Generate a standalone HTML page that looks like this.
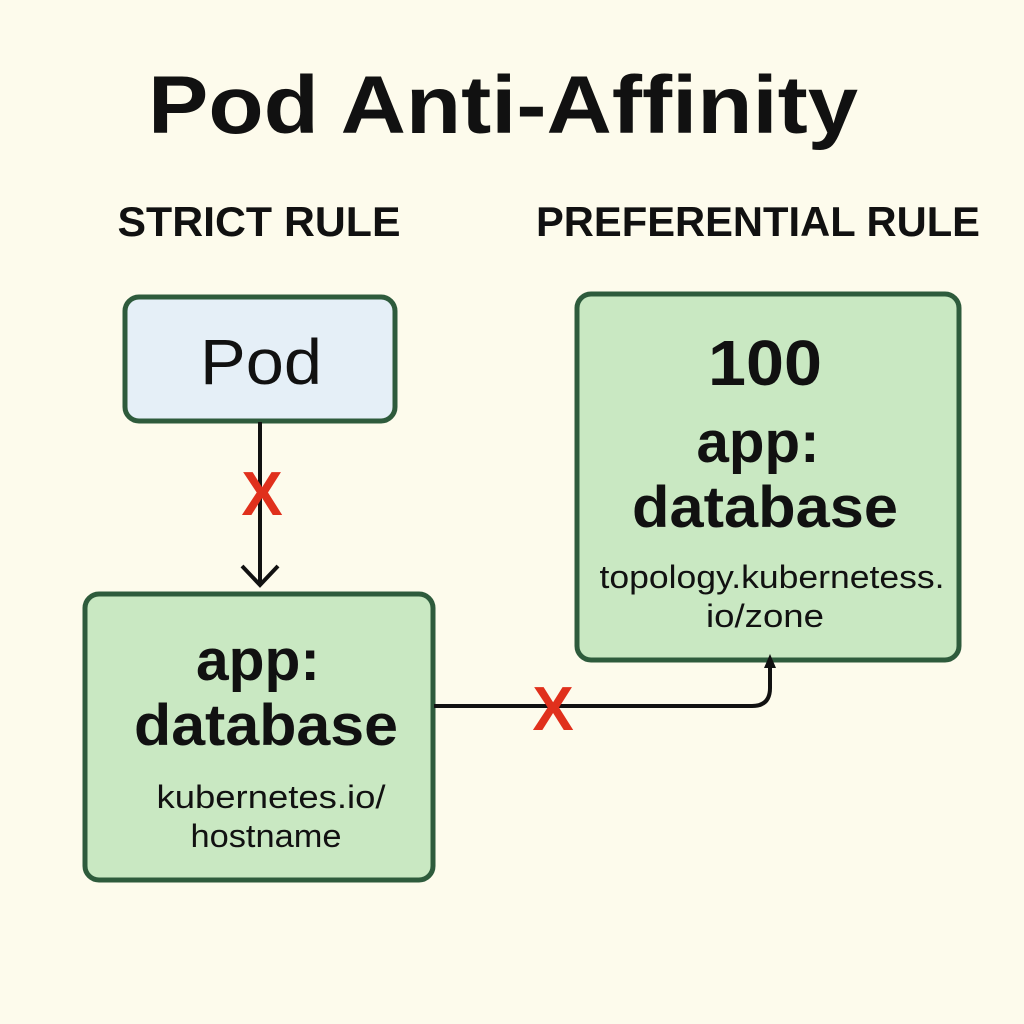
<!DOCTYPE html>
<html><head><meta charset="utf-8"><style>
html,body{margin:0;padding:0;background:#fdfbec;}
svg{display:block}
text{font-family:"Liberation Sans","DejaVu Sans",sans-serif;fill:#111;text-anchor:middle}
</style></head><body>
<svg width="1024" height="1024" viewBox="0 0 1024 1024">
<rect width="1024" height="1024" fill="#fdfbec"/>
<text x="503" y="133" font-size="82" font-weight="bold" textLength="710" lengthAdjust="spacingAndGlyphs">Pod Anti-Affinity</text>
<text x="259" y="236" font-size="42" font-weight="bold" textLength="283" lengthAdjust="spacingAndGlyphs">STRICT RULE</text>
<text x="758" y="236" font-size="42" font-weight="bold" textLength="444" lengthAdjust="spacingAndGlyphs">PREFERENTIAL RULE</text>

<rect x="125" y="297" width="270" height="124" rx="14" fill="#e5eff7" stroke="#2e5b3c" stroke-width="5"/>
<text x="261" y="384" font-size="64" textLength="122" lengthAdjust="spacingAndGlyphs">Pod</text>

<line x1="260" y1="422" x2="260" y2="584" stroke="#111" stroke-width="4"/>
<polyline points="242,566 260,585 278,566" fill="none" stroke="#111" stroke-width="4"/>
<text x="262" y="515" font-size="62" font-weight="bold" style="fill:#e0301c">X</text>

<rect x="85" y="594" width="348" height="286" rx="14" fill="#c9e8c2" stroke="#2e5b3c" stroke-width="5"/>
<text x="258" y="680" font-size="58" font-weight="bold" textLength="124" lengthAdjust="spacingAndGlyphs">app:</text>
<text x="266" y="745" font-size="58" font-weight="bold" textLength="264" lengthAdjust="spacingAndGlyphs">database</text>
<text x="271" y="808" font-size="32" textLength="229" lengthAdjust="spacingAndGlyphs">kubernetes.io/</text>
<text x="266" y="847" font-size="32" textLength="151" lengthAdjust="spacingAndGlyphs">hostname</text>

<rect x="577" y="294" width="382" height="366" rx="14" fill="#c9e8c2" stroke="#2e5b3c" stroke-width="5"/>
<text x="765" y="385" font-size="64" font-weight="bold" textLength="114" lengthAdjust="spacingAndGlyphs">100</text>
<text x="758" y="462" font-size="58" font-weight="bold" textLength="123" lengthAdjust="spacingAndGlyphs">app:</text>
<text x="765" y="527" font-size="58" font-weight="bold" textLength="266" lengthAdjust="spacingAndGlyphs">database</text>
<text x="772" y="588" font-size="32" textLength="345" lengthAdjust="spacingAndGlyphs">topology.kubernetess.</text>
<text x="765" y="627" font-size="32" textLength="118" lengthAdjust="spacingAndGlyphs">io/zone</text>

<path d="M434,706 L752,706 Q770,706 770,688 L770,664" fill="none" stroke="#111" stroke-width="4"/>
<polygon points="770,654 764,668 776,668" fill="#111"/>
<text x="553" y="730" font-size="62" font-weight="bold" style="fill:#e0301c">X</text>
</svg>
</body></html>
